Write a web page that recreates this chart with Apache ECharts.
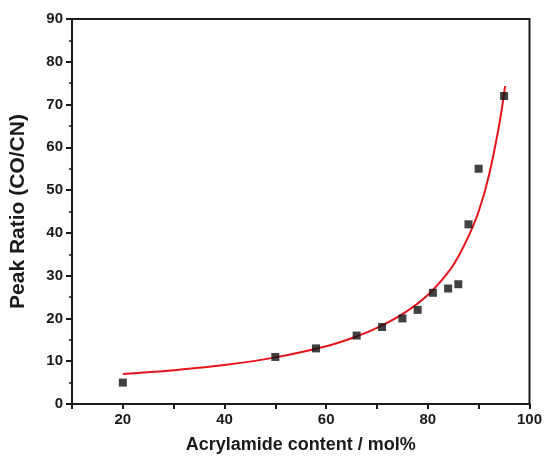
<!DOCTYPE html>
<html>
<head>
<meta charset="utf-8">
<script src="https://cdn.jsdelivr.net/npm/echarts@6/dist/echarts.min.js"></script>
<style>
  html, body { margin: 0; padding: 0; background: #fff; }
  #chart { width: 545px; height: 459px; }
</style>
</head>
<body>
<div id="chart"></div>
<script>
// measured points (acrylamide mol%, peak ratio)
var measuredX = [20, 50, 58, 66, 71, 75, 78, 81, 84, 86, 88, 90, 95]
var measuredY = [5, 11, 13, 16, 18, 20, 22, 26, 27, 28, 42, 55, 72]

// red fit curve
var fitX = [20, 30, 40, 50, 60, 66, 70, 75, 80, 84, 86, 88, 90, 92, 94, 95.2]
var fitY = [7.0, 7.9, 9.1, 10.9, 13.5, 15.8, 17.8, 21.0, 25.5, 30.8, 34.5, 39.2, 45.0, 53.3, 65.0, 74.3]

var xTicks = [20, 40, 60, 80, 100]

var chart = echarts.init(document.getElementById('chart'))

var pts = measuredX.map(function (x, i) { return [x, measuredY[i]] })
var fit = fitX.map(function (x, i) { return [x, fitY[i]] })

var font = 'Liberation Sans, Arial, sans-serif'

chart.setOption({
  animation: false,
  grid: {
    left: 72,
    right: 10,
    top: 19,
    bottom: 54,
    show: true,
    borderColor: '#1a1a1a',
    borderWidth: 2
  },
  xAxis: {
    type: 'value',
    min: 10,
    max: 100,
    interval: 10,
    name: 'Acrylamide content / mol%',
    nameLocation: 'middle',
    nameGap: 32,
    nameTextStyle: { fontFamily: font, fontWeight: 'bold', fontSize: 18, color: '#1a1a1a' },
    axisLine: { show: true, lineStyle: { color: '#1a1a1a', width: 2 } },
    axisTick: { show: true, inside: false, length: 5, lineStyle: { color: '#1a1a1a', width: 2 } },
    axisLabel: {
      fontFamily: font, fontWeight: 'bold', fontSize: 15, color: '#1a1a1a', margin: 8,
      formatter: function (v) { return xTicks.indexOf(v) >= 0 ? String(v) : '' }
    },
    splitLine: { show: false }
  },
  yAxis: {
    type: 'value',
    min: 0,
    max: 90,
    interval: 10,
    name: 'Peak Ratio (CO/CN)',
    nameLocation: 'middle',
    nameGap: 43,
    nameTextStyle: { fontFamily: font, fontWeight: 'bold', fontSize: 21, color: '#1a1a1a' },
    axisLine: { show: true, lineStyle: { color: '#1a1a1a', width: 2 } },
    axisTick: { show: true, inside: false, length: 6, lineStyle: { color: '#1a1a1a', width: 2 } },
    minorTick: { show: true, splitNumber: 2, length: 3, lineStyle: { color: '#1a1a1a', width: 1.5 } },
    axisLabel: { fontFamily: font, fontWeight: 'bold', fontSize: 15, color: '#1a1a1a', margin: 9 },
    splitLine: { show: false }
  },
  series: [
    {
      type: 'line',
      data: fit,
      smooth: 0.4,
      showSymbol: false,
      lineStyle: { color: '#e5141b', width: 2 },
      z: 3
    },
    {
      type: 'scatter',
      data: pts,
      symbol: 'rect',
      symbolSize: 8,
      itemStyle: { color: '#111' },
      z: 4
    }
  ]
})
</script>
</body>
</html>
